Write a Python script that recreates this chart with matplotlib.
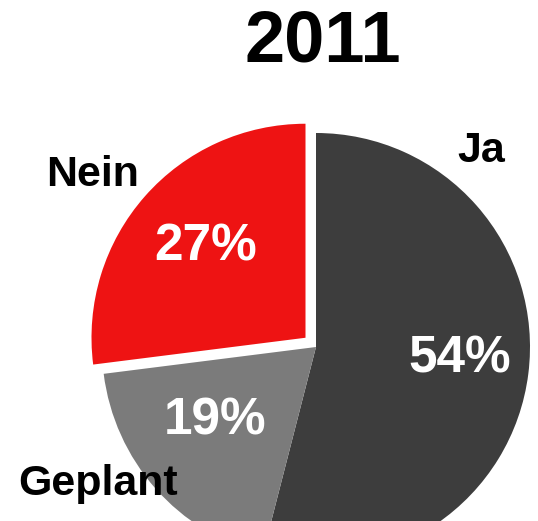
import matplotlib
matplotlib.use("Agg")
import matplotlib.pyplot as plt

# data
labels = ["Ja", "Geplant", "Nein"]
values = [54, 19, 27]
pct_text = ["54%", "19%", "27%"]
colors = ["#3d3d3d", "#7b7b7b", "#ee1313"]
title = "2011"

plt.rcParams['font.family'] = ['Liberation Sans', 'DejaVu Sans']

fig = plt.figure(figsize=(5.38, 5.21), dpi=100)
ax = fig.add_axes([0, 0, 1, 1])

H = 521
# explode is in data units here (axes are in pixels)
wedges, _ = ax.pie(values, colors=colors, startangle=90, counterclock=False,
                   center=(316, H - 347), radius=214,
                   explode=[0, 0, 14], frame=True)
ax.set_xlim(0, 538)
ax.set_ylim(0, 521)
ax.set_aspect('equal')
ax.axis('off')

# percentage labels inside slices
pct_pos = [(460, 359), (215, 421), (206, 247)]
for t, (x, y) in zip(pct_text, pct_pos):
    ax.text(x, H - y, t, color="white", fontsize=37, fontweight="bold",
            ha="center", va="center")

# category names outside
name_pos = [(481, 151), (98, 484), (93, 175)]
for t, (x, y) in zip(labels, name_pos):
    ax.text(x, H - y, t, color="black", fontsize=31, fontweight="bold",
            ha="center", va="center")

ax.text(323, H - 42, title, color="black", fontsize=52, fontweight="bold",
        ha="center", va="center")

fig.savefig("out.png", dpi=100)
